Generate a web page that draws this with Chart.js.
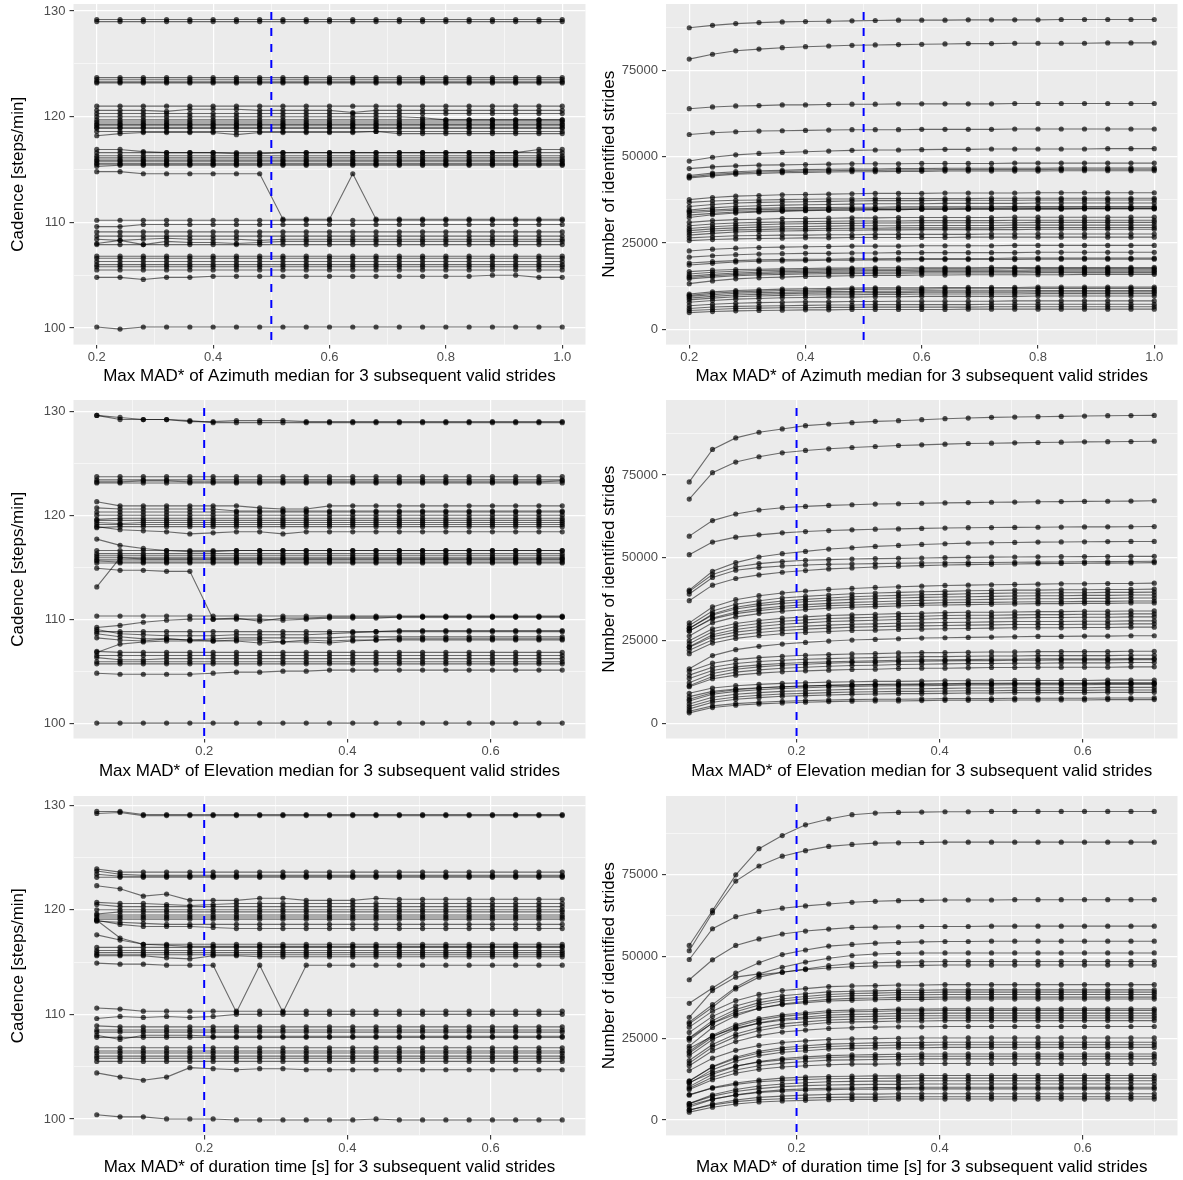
<!DOCTYPE html>
<html><head><meta charset="utf-8">
<script src="https://cdn.jsdelivr.net/npm/chart.js@4.4.1/dist/chart.umd.min.js"></script>
<style>
html,body{margin:0;padding:0;background:#fff;}
#wrap{position:relative;width:1183px;height:1180px;overflow:hidden;}
.pc{position:absolute;}
</style></head><body><div id="wrap">
<div class="pc" id="w1" style="left:0;top:0;width:590px;height:390px"><canvas id="c1"></canvas></div>
<div class="pc" id="w2" style="left:590px;top:0;width:593px;height:390px"><canvas id="c2"></canvas></div>
<div class="pc" id="w3" style="left:0;top:390px;width:590px;height:395px"><canvas id="c3"></canvas></div>
<div class="pc" id="w4" style="left:590px;top:390px;width:593px;height:395px"><canvas id="c4"></canvas></div>
<div class="pc" id="w5" style="left:0;top:785px;width:590px;height:395px"><canvas id="c5"></canvas></div>
<div class="pc" id="w6" style="left:590px;top:785px;width:593px;height:395px"><canvas id="c6"></canvas></div>
</div>
<script>
// ---------------- DATA ----------------
const madAzX = [0.2,0.24,0.28,0.32,0.36,0.4,0.44,0.48,0.52,0.56,0.6,0.64,0.68,0.72,0.76,0.8,0.84,0.88,0.92,0.96,1.0];
const madElX = [0.05,0.0825,0.115,0.1475,0.18,0.2125,0.245,0.2775,0.31,0.3425,0.375,0.4075,0.44,0.4725,0.505,0.5375,0.57,0.6025,0.635,0.6675,0.7];
const madDurX = [0.05,0.0825,0.115,0.1475,0.18,0.2125,0.245,0.2775,0.31,0.3425,0.375,0.4075,0.44,0.4725,0.505,0.5375,0.57,0.6025,0.635,0.6675,0.7];

const azXTicks = [0.2,0.4,0.6,0.8,1.0];
const azXTickLabels = ['0.2','0.4','0.6','0.8','1.0'];
const azXMinor = [0.3,0.5,0.7,0.9];
const madXTicks = [0.2,0.4,0.6];
const madXTickLabels = ['0.2','0.4','0.6'];
const madXMinor = [0.1,0.3,0.5,0.7];
const cadTicks = [100,110,120,130];
const cadTickLabels = ['100','110','120','130'];
const cadMinor = [105,115,125];
const strideTicks = [0,25000,50000,75000];
const strideTickLabels = ['0','25000','50000','75000'];
const strideMinor = [12500,37500,62500,87500];

const azThreshold = 0.5;
const elThreshold = 0.2;
const durThreshold = 0.2;

const cadenceAzimuth = [
[129.2,129.2,129.2,129.2,129.2,129.2,129.2,129.2,129.2,129.2,129.2,129.2,129.2,129.2,129.2,129.2,129.2,129.2,129.2,129.2,129.2],
[129.0,129.0,129.0,129.0,129.0,129.0,129.0,129.0,129.0,129.0,129.0,129.0,129.0,129.0,129.0,129.0,129.0,129.0,129.0,129.0,129.0],
[123.7,123.7,123.7,123.7,123.7,123.7,123.7,123.7,123.7,123.7,123.7,123.7,123.7,123.7,123.7,123.7,123.7,123.7,123.7,123.7,123.7],
[123.5,123.5,123.5,123.5,123.5,123.5,123.5,123.5,123.5,123.5,123.5,123.5,123.5,123.5,123.5,123.5,123.5,123.5,123.5,123.5,123.5],
[123.3,123.3,123.3,123.3,123.3,123.3,123.3,123.3,123.3,123.3,123.3,123.3,123.3,123.3,123.3,123.3,123.3,123.3,123.3,123.3,123.3],
[123.2,123.2,123.2,123.2,123.2,123.2,123.2,123.2,123.2,123.2,123.2,123.2,123.2,123.2,123.2,123.2,123.2,123.2,123.2,123.2,123.2],
[121.0,121.0,121.0,121.0,121.0,121.0,121.0,121.0,121.0,121.0,121.0,121.0,121.0,121.0,121.0,121.0,121.0,121.0,121.0,121.0,121.0],
[120.6,120.6,120.6,120.5,120.7,120.7,120.7,120.6,120.6,120.6,120.6,120.4,120.6,120.6,120.6,120.6,120.6,120.6,120.6,120.6,120.6],
[120.3,120.3,120.3,120.3,120.3,120.3,120.3,120.3,120.3,120.3,120.3,120.3,120.3,120.3,120.3,120.3,120.3,120.3,120.3,120.3,120.3],
[120.0,120.0,120.0,120.0,120.0,120.0,120.0,120.0,120.0,120.0,120.0,120.0,120.0,120.0,119.9,119.7,119.7,119.7,119.7,119.7,119.7],
[119.7,119.7,119.7,119.7,119.7,119.7,119.7,119.7,119.7,119.7,119.7,119.7,119.7,119.7,119.7,119.7,119.7,119.7,119.7,119.7,119.7],
[119.5,119.5,119.5,119.5,119.5,119.5,119.5,119.5,119.5,119.5,119.5,119.5,119.5,119.5,119.5,119.5,119.5,119.5,119.5,119.5,119.5],
[119.3,119.3,119.3,119.3,119.3,119.3,119.3,119.3,119.3,119.3,119.3,119.3,119.3,119.3,119.3,119.3,119.3,119.3,119.3,119.3,119.3],
[119.2,119.2,119.2,119.2,119.2,119.2,119.2,119.2,119.2,119.2,119.2,119.2,119.2,119.2,119.2,119.2,119.2,119.2,119.2,119.2,119.2],
[119.0,119.0,119.0,119.0,119.0,119.0,119.0,119.0,119.0,119.0,119.0,119.0,119.0,119.0,119.0,119.0,119.0,119.0,119.0,119.0,119.0],
[118.9,118.9,118.9,118.9,118.9,118.9,118.9,118.9,118.9,118.9,118.9,118.9,118.9,118.9,118.9,118.9,118.9,118.9,118.9,118.9,118.9],
[118.6,118.6,118.6,118.6,118.6,118.6,118.6,118.6,118.6,118.6,118.6,118.6,118.6,118.6,118.6,118.6,118.6,118.6,118.6,118.6,118.6],
[118.2,118.4,118.5,118.5,118.5,118.5,118.3,118.5,118.5,118.5,118.5,118.5,118.6,118.4,118.4,118.4,118.4,118.4,118.4,118.4,118.4],
[116.9,116.9,116.7,116.6,116.6,116.6,116.5,116.5,116.6,116.6,116.6,116.6,116.6,116.6,116.6,116.6,116.6,116.6,116.6,116.9,116.9],
[116.6,116.6,116.6,116.6,116.6,116.6,116.6,116.6,116.6,116.6,116.6,116.6,116.6,116.6,116.6,116.6,116.6,116.6,116.6,116.6,116.6],
[116.3,116.3,116.3,116.3,116.3,116.3,116.3,116.3,116.3,116.3,116.3,116.3,116.3,116.3,116.3,116.3,116.3,116.3,116.3,116.3,116.3],
[116.1,116.1,116.1,116.1,116.1,116.1,116.1,116.1,116.1,116.1,116.1,116.1,116.1,116.1,116.1,116.1,116.1,116.1,116.1,116.1,116.1],
[115.9,115.9,115.9,115.9,115.9,115.9,115.9,115.9,115.9,115.9,115.9,115.9,115.9,115.9,115.9,115.9,115.9,115.9,115.9,115.9,115.9],
[115.8,115.8,115.8,115.8,115.8,115.8,115.8,115.8,115.8,115.8,115.8,115.8,115.8,115.8,115.8,115.8,115.8,115.8,115.8,115.8,115.8],
[115.6,115.6,115.6,115.6,115.6,115.6,115.6,115.6,115.6,115.6,115.6,115.6,115.6,115.6,115.6,115.6,115.6,115.6,115.6,115.6,115.6],
[115.5,115.5,115.5,115.5,115.5,115.5,115.5,115.5,115.5,115.5,115.5,115.5,115.5,115.5,115.5,115.5,115.5,115.5,115.5,115.5,115.5],
[115.3,115.4,115.4,115.4,115.4,115.4,115.4,115.4,115.4,115.4,115.4,115.4,115.4,115.4,115.4,115.4,115.4,115.4,115.4,115.4,115.4],
[114.8,114.8,114.6,114.6,114.6,114.6,114.6,114.6,110.3,110.3,110.3,114.6,110.3,110.3,110.3,110.3,110.3,110.3,110.3,110.3,110.3],
[110.2,110.2,110.2,110.2,110.2,110.2,110.2,110.2,110.2,110.2,110.2,110.2,110.2,110.2,110.2,110.2,110.2,110.2,110.2,110.2,110.2],
[109.6,109.6,109.8,109.8,109.8,109.8,109.8,109.8,109.8,109.8,109.8,109.8,109.8,109.8,109.8,109.8,109.8,109.8,109.8,109.8,109.8],
[109.1,109.1,109.1,109.1,109.1,109.1,109.1,109.1,109.1,109.1,109.1,109.1,109.1,109.1,109.1,109.1,109.1,109.1,109.1,109.1,109.1],
[108.7,108.7,108.7,108.7,108.7,108.7,108.7,108.7,108.7,108.7,108.7,108.7,108.7,108.7,108.7,108.7,108.7,108.7,108.7,108.7,108.7],
[108.4,108.3,108.4,108.5,108.4,108.4,108.4,108.3,108.4,108.4,108.4,108.4,108.4,108.4,108.4,108.4,108.4,108.4,108.4,108.4,108.4],
[108.0,108.3,107.9,108.2,108.1,108.1,108.0,108.1,108.2,108.2,108.2,108.2,108.2,108.2,108.2,108.2,108.2,108.2,108.2,108.2,108.2],
[107.9,107.9,107.9,107.9,107.9,107.9,107.9,107.9,107.9,107.9,107.9,107.9,107.9,107.9,107.9,107.9,107.9,107.9,107.9,107.9,107.9],
[106.8,106.8,106.8,106.8,106.8,106.8,106.8,106.8,106.8,106.8,106.8,106.8,106.8,106.8,106.8,106.8,106.8,106.8,106.8,106.8,106.8],
[106.6,106.6,106.6,106.6,106.6,106.6,106.6,106.6,106.6,106.6,106.6,106.6,106.6,106.6,106.6,106.6,106.6,106.6,106.6,106.6,106.6],
[106.3,106.3,106.3,106.3,106.3,106.3,106.3,106.3,106.3,106.3,106.3,106.3,106.3,106.3,106.3,106.3,106.3,106.3,106.3,106.3,106.3],
[106.0,106.0,106.0,106.0,106.0,106.0,106.0,106.0,106.0,106.0,106.0,106.0,106.0,106.0,106.0,106.0,106.0,106.0,106.0,106.0,106.0],
[105.8,105.8,105.8,105.8,105.8,105.8,105.8,105.8,105.8,105.8,105.8,105.8,105.8,105.8,105.8,105.8,105.8,105.8,105.8,105.8,105.8],
[105.5,105.5,105.5,105.5,105.5,105.5,105.5,105.5,105.5,105.5,105.5,105.5,105.5,105.5,105.5,105.5,105.5,105.5,105.5,105.5,105.5],
[104.8,104.8,104.6,104.8,104.8,104.9,104.9,104.9,104.9,104.9,104.9,104.9,104.9,104.9,104.9,104.9,104.9,105.0,105.0,104.8,104.8],
[100.1,99.9,100.1,100.1,100.1,100.1,100.1,100.1,100.1,100.1,100.1,100.1,100.1,100.1,100.1,100.1,100.1,100.1,100.1,100.1,100.1]
];

const stridesAzimuth = [
[87500,88200,88700,89000,89200,89300,89400,89500,89600,89700,89700,89700,89800,89800,89800,89800,89900,89900,89900,89900,89900],
[78400,79800,80800,81300,81700,82000,82200,82400,82500,82600,82700,82800,82900,82900,83000,83000,83000,83000,83100,83100,83100],
[64000,64500,64800,64900,65100,65100,65200,65300,65300,65400,65400,65400,65400,65400,65500,65500,65500,65500,65500,65500,65500],
[56500,57000,57300,57500,57600,57700,57800,57900,57900,57900,58000,58000,58000,58000,58100,58100,58100,58100,58100,58100,58100],
[48800,49900,50600,51000,51300,51500,51700,51900,52000,52000,52100,52200,52200,52300,52300,52300,52300,52300,52400,52400,52400],
[46600,47100,47400,47600,47700,47800,47900,48000,48000,48000,48100,48100,48100,48100,48200,48200,48200,48200,48200,48200,48200],
[44600,45300,45700,46000,46100,46300,46400,46500,46500,46600,46600,46700,46700,46700,46700,46700,46800,46800,46800,46800,46800],
[44200,44900,45300,45600,45700,45900,46000,46100,46100,46200,46200,46300,46300,46300,46300,46300,46400,46400,46400,46400,46400],
[43900,44500,45000,45200,45400,45500,45600,45700,45700,45800,45800,45900,45900,45900,45900,45900,46000,46000,46000,46000,46000],
[37600,38200,38600,38800,39000,39100,39200,39300,39400,39400,39400,39500,39500,39500,39500,39600,39600,39600,39600,39600,39600],
[36800,37200,37400,37500,37600,37700,37800,37800,37900,37900,37900,37900,37900,38000,38000,38000,38000,38000,38000,38000,38000],
[35600,36200,36600,36800,36900,37000,37100,37200,37300,37300,37300,37400,37400,37400,37400,37500,37500,37500,37500,37500,37500],
[34600,35200,35600,35800,36000,36100,36200,36300,36400,36400,36400,36500,36500,36500,36500,36600,36600,36600,36600,36600,36600],
[34200,34600,34900,35100,35200,35300,35300,35400,35400,35500,35500,35500,35500,35500,35600,35600,35600,35600,35600,35600,35600],
[33800,34200,34500,34700,34800,34900,34900,35000,35000,35100,35100,35100,35100,35100,35200,35200,35200,35200,35200,35200,35200],
[33100,33600,34000,34200,34400,34500,34600,34600,34700,34700,34800,34800,34800,34800,34800,34900,34900,34900,34900,34900,34900],
[32400,33200,33700,34000,34200,34400,34500,34600,34700,34700,34800,34800,34900,34900,34900,34900,34900,35000,35000,35000,35000],
[31000,31500,31800,31900,32100,32100,32200,32300,32300,32400,32400,32400,32400,32400,32500,32500,32500,32500,32500,32500,32500],
[30000,30500,30800,31000,31100,31200,31300,31400,31400,31400,31500,31500,31500,31500,31600,31600,31600,31600,31600,31600,31600],
[29200,29700,30100,30300,30500,30600,30700,30700,30800,30800,30900,30900,30900,30900,30900,31000,31000,31000,31000,31000,31000],
[28600,29100,29400,29600,29700,29800,29900,30000,30000,30000,30100,30100,30100,30100,30200,30200,30200,30200,30200,30200,30200],
[28000,28500,28800,28900,29100,29100,29200,29300,29300,29400,29400,29400,29400,29400,29500,29500,29500,29500,29500,29500,29500],
[27300,27800,28200,28400,28500,28600,28700,28700,28800,28800,28900,28900,28900,28900,28900,29000,29000,29000,29000,29000,29000],
[26500,26800,27100,27200,27300,27300,27400,27400,27500,27500,27500,27500,27500,27600,27600,27600,27600,27600,27600,27600,27600],
[25700,26000,26200,26300,26400,26500,26500,26600,26600,26600,26600,26600,26700,26700,26700,26700,26700,26700,26700,26700,26700],
[22700,23200,23500,23700,23800,23900,24000,24100,24100,24100,24200,24200,24200,24200,24300,24300,24300,24300,24300,24300,24300],
[20900,21300,21600,21800,21900,22000,22000,22100,22100,22200,22200,22200,22200,22200,22200,22300,22300,22300,22300,22300,22300],
[19200,19600,19900,20100,20200,20300,20300,20400,20400,20500,20500,20500,20500,20500,20600,20600,20600,20600,20600,20600,20600],
[18600,19100,19500,19700,19800,19900,20000,20000,20100,20100,20200,20200,20200,20200,20200,20300,20300,20300,20300,20300,20300],
[16700,17100,17300,17400,17500,17600,17700,17700,17800,17800,17800,17800,17800,17900,17900,17900,17900,17900,17900,17900,17900],
[16000,16500,16800,17000,17100,17200,17300,17400,17400,17400,17500,17500,17500,17500,17600,17600,17600,17600,17600,17600,17600],
[15400,15900,16300,16500,16700,16800,16900,16900,17000,17000,17100,17100,17100,17100,17100,17200,17200,17200,17200,17200,17200],
[15000,15500,15900,16100,16300,16400,16500,16500,16600,16600,16700,16700,16700,16700,16700,16800,16800,16800,16800,16800,16800],
[14600,15100,15500,15700,15900,16000,16100,16100,16200,16200,16300,16300,16300,16300,16300,16400,16400,16400,16400,16400,16400],
[13200,14000,14600,14900,15100,15300,15400,15500,15600,15600,15700,15700,15800,15800,15800,15800,15800,15900,15900,15900,15900],
[10200,10800,11200,11400,11600,11700,11800,11900,12000,12000,12000,12100,12100,12100,12100,12200,12200,12200,12200,12200,12200],
[9800,10400,10800,11000,11200,11300,11400,11500,11600,11600,11600,11700,11700,11700,11700,11800,11800,11800,11800,11800,11800],
[9500,10000,10400,10600,10700,10800,10900,10900,11000,11000,11100,11100,11100,11100,11100,11200,11200,11200,11200,11200,11200],
[9000,9500,9900,10100,10300,10400,10500,10500,10600,10600,10700,10700,10700,10700,10700,10800,10800,10800,10800,10800,10800],
[8500,9000,9400,9600,9800,9900,10000,10000,10100,10100,10200,10200,10200,10200,10200,10300,10300,10300,10300,10300,10300],
[7800,8300,8700,8900,9100,9200,9300,9300,9400,9400,9500,9500,9500,9500,9500,9600,9600,9600,9600,9600,9600],
[6800,7200,7500,7700,7800,7900,7900,8000,8000,8100,8100,8100,8100,8100,8200,8200,8200,8200,8200,8200,8200],
[6000,6400,6600,6700,6800,6900,7000,7000,7100,7100,7100,7100,7100,7200,7200,7200,7200,7200,7200,7200,7200],
[5400,5700,6000,6100,6200,6200,6300,6300,6400,6400,6400,6400,6400,6500,6500,6500,6500,6500,6500,6500,6500],
[4800,5100,5300,5400,5500,5600,5600,5700,5700,5700,5700,5700,5800,5800,5800,5800,5800,5800,5800,5800,5800]
];

const cadenceElevation = [
[129.6,129.4,129.2,129.2,129.0,129.0,129.1,129.1,129.1,129.0,129.0,129.0,129.0,129.0,129.0,129.0,129.0,129.0,129.0,129.0,129.0],
[129.6,129.2,129.2,129.2,129.1,128.9,128.9,128.9,128.9,128.9,128.9,128.9,128.9,128.9,128.9,128.9,128.9,128.9,128.9,128.9,128.9],
[123.7,123.7,123.7,123.7,123.7,123.7,123.7,123.7,123.7,123.7,123.7,123.7,123.7,123.7,123.7,123.7,123.7,123.7,123.7,123.7,123.7],
[123.4,123.4,123.4,123.4,123.4,123.4,123.4,123.4,123.4,123.4,123.4,123.4,123.4,123.4,123.4,123.4,123.4,123.4,123.4,123.4,123.4],
[123.2,123.2,123.3,123.3,123.2,123.2,123.2,123.2,123.2,123.2,123.2,123.2,123.2,123.2,123.2,123.2,123.2,123.2,123.2,123.2,123.3],
[123.1,123.1,123.1,123.1,123.1,123.1,123.1,123.1,123.1,123.1,123.1,123.1,123.1,123.1,123.1,123.1,123.1,123.1,123.1,123.1,123.1],
[121.3,120.9,120.9,120.9,120.9,120.9,120.9,120.7,120.6,120.6,120.9,120.9,120.9,120.9,120.9,120.9,120.9,120.9,120.9,120.9,120.9],
[120.7,120.6,120.6,120.6,120.6,120.6,120.4,120.4,120.4,120.4,120.4,120.4,120.4,120.4,120.4,120.4,120.4,120.4,120.4,120.4,120.4],
[120.3,120.3,120.3,120.3,120.3,120.3,120.3,120.3,120.3,120.3,120.3,120.3,120.3,120.3,120.3,120.3,120.3,120.3,120.3,120.3,120.3],
[120.0,120.0,120.0,120.0,120.0,120.0,120.0,120.0,120.0,120.0,120.0,120.0,120.0,120.0,120.0,120.0,120.0,120.0,120.0,120.0,120.0],
[119.6,119.7,119.7,119.7,119.7,119.7,119.7,119.7,119.7,119.7,119.7,119.7,119.7,119.7,119.7,119.7,119.7,119.7,119.7,119.7,119.7],
[119.5,119.5,119.5,119.5,119.5,119.5,119.5,119.5,119.5,119.5,119.5,119.5,119.5,119.5,119.5,119.5,119.5,119.5,119.5,119.5,119.5],
[119.3,119.2,119.3,119.3,119.3,119.3,119.3,119.3,119.3,119.3,119.3,119.3,119.3,119.3,119.3,119.3,119.3,119.3,119.3,119.3,119.3],
[119.1,119.1,119.1,119.1,119.1,119.1,119.1,119.1,119.1,119.1,119.1,119.1,119.1,119.1,119.1,119.1,119.1,119.1,119.1,119.1,119.1],
[118.8,118.9,118.9,118.9,118.9,118.9,118.9,118.9,118.9,118.9,118.9,118.9,118.9,118.9,118.9,118.9,118.9,118.9,118.9,118.9,118.9],
[118.9,118.6,118.5,118.4,118.2,118.3,118.4,118.4,118.2,118.4,118.4,118.4,118.4,118.4,118.4,118.4,118.4,118.4,118.4,118.4,118.4],
[117.7,117.1,116.8,116.6,116.5,116.5,116.6,116.6,116.6,116.6,116.6,116.6,116.6,116.6,116.6,116.6,116.6,116.6,116.6,116.6,116.6],
[116.6,116.6,116.6,116.6,116.6,116.6,116.6,116.6,116.6,116.6,116.6,116.6,116.6,116.6,116.6,116.6,116.6,116.6,116.6,116.6,116.6],
[116.3,116.3,116.3,116.3,116.3,116.3,116.3,116.3,116.3,116.3,116.3,116.3,116.3,116.3,116.3,116.3,116.3,116.3,116.3,116.3,116.3],
[116.1,116.1,116.1,116.1,116.1,116.1,116.1,116.1,116.1,116.1,116.1,116.1,116.1,116.1,116.1,116.1,116.1,116.1,116.1,116.1,116.1],
[115.9,115.9,115.9,115.9,115.9,115.9,115.9,115.9,115.9,115.9,115.9,115.9,115.9,115.9,115.9,115.9,115.9,115.9,115.9,115.9,115.9],
[115.7,115.7,115.7,115.7,115.7,115.7,115.7,115.7,115.7,115.7,115.7,115.7,115.7,115.7,115.7,115.7,115.7,115.7,115.7,115.7,115.7],
[115.6,115.5,115.5,115.5,115.5,115.5,115.5,115.5,115.5,115.5,115.5,115.5,115.5,115.5,115.5,115.5,115.5,115.5,115.5,115.5,115.5],
[115.4,115.4,115.4,115.4,115.4,115.4,115.4,115.4,115.4,115.4,115.4,115.4,115.4,115.4,115.4,115.4,115.4,115.4,115.4,115.4,115.4],
[113.1,115.9,115.8,115.8,115.8,115.8,115.8,115.8,115.8,115.8,115.8,115.8,115.8,115.8,115.8,115.8,115.8,115.8,115.8,115.8,115.8],
[114.9,114.7,114.7,114.6,114.6,110.0,110.1,109.8,110.1,110.1,110.2,110.2,110.2,110.2,110.2,110.2,110.2,110.2,110.2,110.2,110.2],
[110.3,110.3,110.3,110.3,110.3,110.3,110.3,110.3,110.3,110.3,110.3,110.3,110.3,110.3,110.3,110.3,110.3,110.3,110.3,110.3,110.3],
[109.2,109.4,109.7,109.9,110.0,110.0,110.0,110.0,109.9,110.0,110.1,110.1,110.1,110.2,110.2,110.2,110.2,110.2,110.2,110.2,110.2],
[109.0,108.6,108.5,108.4,108.4,108.4,108.5,108.5,108.5,108.5,108.6,108.7,108.8,108.9,108.9,108.9,108.9,108.9,108.9,108.9,108.9],
[108.8,108.8,108.8,108.8,108.8,108.8,108.8,108.8,108.8,108.8,108.8,108.8,108.8,108.8,108.8,108.8,108.8,108.8,108.8,108.8,108.8],
[108.6,108.3,108.1,108.1,108.0,108.1,108.2,108.2,108.2,108.2,108.2,108.3,108.3,108.3,108.3,108.3,108.3,108.3,108.3,108.3,108.3],
[108.2,108.0,107.9,108.1,108.0,107.9,108.0,108.0,107.8,108.0,107.9,108.0,108.0,108.0,108.0,108.0,108.0,108.0,108.0,108.0,108.0],
[106.8,107.6,107.8,107.9,107.9,107.9,107.9,107.7,107.8,107.8,107.7,107.9,108.0,108.1,108.1,108.1,108.1,108.1,108.1,108.1,108.1],
[106.9,106.8,106.8,106.8,106.8,106.8,106.8,106.8,106.8,106.8,106.8,106.8,106.8,106.8,106.8,106.8,106.8,106.8,106.8,106.8,106.8],
[106.5,106.5,106.5,106.5,106.5,106.5,106.5,106.5,106.5,106.5,106.5,106.5,106.5,106.5,106.5,106.5,106.5,106.5,106.5,106.5,106.5],
[106.3,106.1,106.1,106.2,106.2,106.2,106.2,106.2,106.2,106.2,106.2,106.2,106.2,106.2,106.2,106.2,106.2,106.2,106.2,106.2,106.2],
[105.9,105.9,105.9,105.9,105.9,105.9,105.9,105.9,105.9,105.9,105.9,105.9,105.9,105.9,105.9,105.9,105.9,105.9,105.9,105.9,105.9],
[105.7,105.7,105.7,105.7,105.7,105.7,105.7,105.7,105.7,105.7,105.7,105.7,105.7,105.7,105.7,105.7,105.7,105.7,105.7,105.7,105.7],
[104.8,104.7,104.7,104.7,104.7,104.8,104.9,104.9,105.0,105.0,105.1,105.1,105.1,105.1,105.1,105.1,105.1,105.1,105.1,105.1,105.1],
[100.0,100.0,100.0,100.0,100.0,100.0,100.0,100.0,100.0,100.0,100.0,100.0,100.0,100.0,100.0,100.0,100.0,100.0,100.0,100.0,100.0]
];

const stridesElevation = [
[72900,82700,86200,87900,88900,89900,90400,90800,91200,91400,91700,92000,92200,92400,92500,92600,92700,92800,92900,92950,93000],
[67700,75700,78900,80500,81700,82400,82900,83300,83600,83900,84100,84300,84500,84600,84700,84800,84900,85000,85050,85100,85200],
[56500,61200,63200,64400,65100,65500,65800,66000,66200,66300,66450,66550,66650,66750,66800,66900,66950,67000,67050,67100,67200],
[50900,54700,56200,56900,57500,57900,58200,58400,58600,58700,58850,58950,59050,59100,59150,59200,59250,59300,59320,59350,59400],
[40200,45900,48500,50200,51200,51900,52600,53000,53400,53700,54000,54200,54400,54500,54600,54700,54750,54800,54850,54900,54900],
[39800,44900,47200,48200,48800,49200,49400,49600,49700,49800,49900,50000,50100,50150,50200,50250,50300,50320,50350,50380,50400],
[39000,44000,46200,47000,47500,47800,48000,48100,48200,48300,48400,48450,48500,48550,48600,48650,48700,48750,48800,48850,48900],
[37000,41700,43700,44800,45600,46100,46600,46900,47200,47400,47600,47800,47900,48000,48100,48200,48250,48300,48350,48400,48500],
[30300,35100,37300,38500,39300,39900,40400,40700,41000,41200,41400,41600,41700,41800,41900,42000,42100,42100,42200,42200,42300],
[29500,33900,35900,37000,37800,38300,38700,39100,39300,39500,39700,39800,40000,40100,40200,40200,40300,40300,40400,40400,40500],
[28600,33000,35000,36100,36900,37400,37800,38200,38400,38600,38800,38900,39100,39200,39300,39300,39400,39400,39500,39500,39600],
[28700,32700,34500,35500,36200,36700,37100,37400,37600,37800,38000,38100,38200,38300,38400,38500,38500,38600,38600,38700,38700],
[27800,31800,33600,34600,35300,35800,36200,36500,36700,36900,37100,37200,37300,37400,37500,37600,37600,37700,37700,37800,37800],
[27900,31500,33100,34000,34700,35100,35500,35700,35900,36100,36200,36400,36500,36500,36600,36700,36700,36800,36800,36900,36900],
[26300,30300,32100,33100,33800,34300,34700,35000,35200,35400,35600,35700,35800,35900,36000,36100,36100,36200,36200,36300,36300],
[24900,28500,30100,31000,31700,32100,32500,32700,32900,33100,33200,33400,33500,33500,33600,33700,33700,33800,33800,33900,33900],
[24000,27600,29200,30100,30800,31200,31600,31800,32000,32200,32300,32500,32600,32600,32700,32800,32800,32900,32900,33000,33000],
[23100,26700,28300,29200,29900,30300,30700,30900,31100,31300,31400,31600,31700,31700,31800,31900,31900,32000,32000,32100,32100],
[22900,26100,27500,28300,28900,29300,29600,29900,30000,30200,30300,30400,30500,30600,30700,30700,30700,30800,30800,30900,30900],
[22000,25200,26600,27400,28000,28400,28700,29000,29100,29300,29400,29500,29600,29700,29800,29800,29800,29900,29900,30000,30000],
[21000,24200,25600,26400,27000,27400,27700,28000,28100,28300,28400,28500,28600,28700,28800,28800,28800,28900,28900,29000,29000],
[16400,20400,22200,23200,23900,24400,24800,25100,25300,25500,25700,25800,25900,26000,26100,26200,26200,26300,26300,26400,26400],
[15700,18100,19200,19800,20200,20500,20700,20900,21000,21200,21300,21300,21400,21500,21500,21600,21600,21600,21600,21700,21700],
[14500,16900,18000,18600,19000,19300,19500,19700,19800,20000,20100,20100,20200,20300,20300,20400,20400,20400,20400,20500,20500],
[13500,15900,17000,17600,18000,18300,18500,18700,18800,19000,19100,19100,19200,19300,19300,19400,19400,19400,19400,19500,19500],
[11300,14100,15400,16100,16600,16900,17200,17400,17500,17700,17800,17900,18000,18000,18100,18100,18200,18200,18200,18300,18300],
[11000,13400,14500,15100,15500,15800,16000,16200,16300,16500,16600,16600,16700,16800,16800,16900,16900,16900,16900,17000,17000],
[12200,15000,16300,17000,17500,17800,18100,18300,18400,18600,18700,18800,18900,18900,19000,19000,19100,19100,19100,19200,19200],
[9000,10600,11300,11700,12000,12200,12400,12500,12600,12600,12700,12800,12800,12800,12900,12900,12900,12900,13000,13000,13000],
[8000,9600,10300,10700,11000,11200,11400,11500,11600,11600,11700,11800,11800,11800,11900,11900,11900,11900,12000,12000,12000],
[6700,8700,9600,10100,10500,10700,10900,11100,11200,11300,11300,11400,11500,11500,11600,11600,11600,11600,11700,11700,11700],
[5800,7800,8700,9200,9600,9800,10000,10200,10300,10400,10400,10500,10600,10600,10700,10700,10700,10700,10800,10800,10800],
[5000,7000,7900,8400,8800,9000,9200,9400,9500,9600,9600,9700,9800,9800,9900,9900,9900,9900,10000,10000,10000],
[4300,6300,7200,7700,8100,8300,8500,8700,8800,8900,8900,9000,9100,9100,9200,9200,9200,9200,9300,9300,9300],
[3600,5200,5900,6300,6600,6800,7000,7100,7200,7200,7300,7400,7400,7400,7500,7500,7500,7500,7600,7600,7600],
[3100,4700,5400,5800,6100,6300,6500,6600,6700,6700,6800,6900,6900,6900,7000,7000,7000,7000,7100,7100,7100],
[7200,9200,10100,10600,11000,11200,11400,11600,11700,11800,11800,11900,12000,12000,12100,12100,12100,12100,12200,12200,12200]
];

const cadenceDuration = [
[129.4,129.4,129.1,129.1,129.1,129.1,129.1,129.1,129.1,129.1,129.1,129.1,129.1,129.1,129.1,129.1,129.1,129.1,129.1,129.1,129.1],
[129.2,129.3,129.0,129.0,129.0,129.0,129.0,129.0,129.0,129.0,129.0,129.0,129.0,129.0,129.0,129.0,129.0,129.0,129.0,129.0,129.0],
[123.9,123.6,123.6,123.6,123.6,123.6,123.6,123.6,123.6,123.6,123.6,123.6,123.6,123.6,123.6,123.6,123.6,123.6,123.6,123.6,123.6],
[123.7,123.4,123.3,123.3,123.3,123.3,123.3,123.3,123.3,123.3,123.3,123.3,123.3,123.3,123.3,123.3,123.3,123.3,123.3,123.3,123.3],
[123.4,123.2,123.2,123.2,123.2,123.2,123.2,123.2,123.2,123.2,123.2,123.2,123.2,123.2,123.2,123.2,123.2,123.2,123.2,123.2,123.2],
[123.1,123.1,123.1,123.1,123.1,123.1,123.1,123.1,123.1,123.1,123.1,123.1,123.1,123.1,123.1,123.1,123.1,123.1,123.1,123.1,123.1],
[122.3,122.0,121.3,121.5,120.9,120.9,120.9,121.1,121.1,120.9,120.9,120.9,121.1,121.0,121.0,121.0,121.0,121.0,121.0,121.0,121.0],
[120.7,120.6,120.6,120.5,120.4,120.5,120.6,120.6,120.6,120.6,120.6,120.6,120.6,120.6,120.6,120.6,120.6,120.6,120.6,120.6,120.6],
[120.5,120.3,120.3,120.3,120.3,120.3,120.3,120.3,120.3,120.3,120.3,120.3,120.3,120.3,120.3,120.3,120.3,120.3,120.3,120.3,120.3],
[120.0,120.0,120.0,120.0,120.0,120.0,120.0,120.0,120.0,120.0,120.0,120.0,120.0,120.0,120.0,120.0,120.0,120.0,120.0,120.0,120.0],
[119.6,119.8,119.8,119.8,119.8,119.8,119.8,119.8,119.8,119.8,119.8,119.8,119.8,119.8,119.8,119.8,119.8,119.8,119.8,119.8,119.8],
[119.5,119.5,119.5,119.5,119.5,119.5,119.5,119.5,119.5,119.5,119.5,119.5,119.5,119.5,119.5,119.5,119.5,119.5,119.5,119.5,119.5],
[119.3,119.3,119.3,119.3,119.3,119.3,119.3,119.3,119.3,119.3,119.3,119.3,119.3,119.3,119.3,119.3,119.3,119.3,119.3,119.3,119.3],
[119.1,119.1,119.1,119.1,119.1,119.1,119.1,119.1,119.1,119.1,119.1,119.1,119.1,119.1,119.1,119.1,119.1,119.1,119.1,119.1,119.1],
[119.0,118.6,118.4,118.4,118.4,118.3,118.2,118.2,118.2,118.2,118.2,118.2,118.2,118.2,118.2,118.2,118.2,118.2,118.2,118.2,118.2],
[118.9,118.8,118.7,118.6,118.6,118.6,118.6,118.6,118.6,118.6,118.6,118.6,118.6,118.6,118.6,118.6,118.6,118.6,118.6,118.6,118.6],
[119.0,117.3,116.7,116.7,116.7,116.7,116.7,116.7,116.7,116.7,116.7,116.7,116.7,116.7,116.7,116.7,116.7,116.7,116.7,116.7,116.7],
[117.6,117.1,116.7,116.6,116.5,116.5,116.5,116.5,116.5,116.5,116.5,116.5,116.5,116.5,116.5,116.5,116.5,116.5,116.5,116.5,116.5],
[116.4,116.4,116.4,116.4,116.4,116.4,116.4,116.4,116.4,116.4,116.4,116.4,116.4,116.4,116.4,116.4,116.4,116.4,116.4,116.4,116.4],
[116.1,116.1,116.1,116.1,116.1,116.1,116.1,116.1,116.1,116.1,116.1,116.1,116.1,116.1,116.1,116.1,116.1,116.1,116.1,116.1,116.1],
[115.9,115.9,115.9,115.9,115.9,115.9,115.9,115.9,115.9,115.9,115.9,115.9,115.9,115.9,115.9,115.9,115.9,115.9,115.9,115.9,115.9],
[115.7,115.7,115.7,115.7,115.7,115.7,115.7,115.7,115.7,115.7,115.7,115.7,115.7,115.7,115.7,115.7,115.7,115.7,115.7,115.7,115.7],
[115.6,115.6,115.6,115.4,115.3,115.6,115.6,115.5,115.5,115.5,115.5,115.5,115.5,115.5,115.5,115.5,115.5,115.5,115.5,115.5,115.5],
[114.9,114.8,114.8,114.7,114.7,114.7,110.2,114.7,110.2,114.7,114.7,114.7,114.7,114.7,114.7,114.7,114.7,114.7,114.7,114.7,114.7],
[110.6,110.5,110.3,110.3,110.3,110.3,110.3,110.3,110.3,110.3,110.3,110.3,110.3,110.3,110.3,110.3,110.3,110.3,110.3,110.3,110.3],
[109.6,109.8,109.7,109.8,109.7,109.8,110.0,110.0,110.0,110.0,110.0,110.0,110.0,110.0,110.0,110.0,110.0,110.0,110.0,110.0,110.0],
[108.9,108.8,108.8,108.8,108.8,108.8,108.8,108.8,108.8,108.8,108.8,108.8,108.8,108.8,108.8,108.8,108.8,108.8,108.8,108.8,108.8],
[108.5,108.5,108.5,108.5,108.5,108.5,108.5,108.5,108.5,108.5,108.5,108.5,108.5,108.5,108.5,108.5,108.5,108.5,108.5,108.5,108.5],
[108.3,108.3,108.3,108.3,108.3,108.3,108.3,108.3,108.3,108.3,108.3,108.3,108.3,108.3,108.3,108.3,108.3,108.3,108.3,108.3,108.3],
[108.0,107.6,108.0,108.0,108.0,107.9,107.9,107.9,107.9,107.9,107.9,107.9,107.9,107.9,107.9,107.9,107.9,107.9,107.9,107.9,107.9],
[107.8,107.8,107.8,107.8,107.8,107.8,107.8,107.8,107.8,107.8,107.8,107.8,107.8,107.8,107.8,107.8,107.8,107.8,107.8,107.8,107.8],
[106.8,106.8,106.8,106.8,106.8,106.8,106.8,106.8,106.8,106.8,106.8,106.8,106.8,106.8,106.8,106.8,106.8,106.8,106.8,106.8,106.8],
[106.5,106.5,106.5,106.5,106.5,106.5,106.5,106.5,106.5,106.5,106.5,106.5,106.5,106.5,106.5,106.5,106.5,106.5,106.5,106.5,106.5],
[106.3,106.3,106.3,106.3,106.3,106.3,106.3,106.3,106.3,106.3,106.3,106.3,106.3,106.3,106.3,106.3,106.3,106.3,106.3,106.3,106.3],
[106.0,106.0,106.0,106.0,106.0,106.0,106.0,106.0,106.0,106.0,106.0,106.0,106.0,106.0,106.0,106.0,106.0,106.0,106.0,106.0,106.0],
[105.8,105.8,105.8,105.8,105.8,105.8,105.8,105.8,105.8,105.8,105.8,105.8,105.8,105.8,105.8,105.8,105.8,105.8,105.8,105.8,105.8],
[105.5,105.5,105.5,105.5,105.5,105.5,105.5,105.5,105.5,105.5,105.5,105.5,105.5,105.5,105.5,105.5,105.5,105.5,105.5,105.5,105.5],
[104.4,104.0,103.7,104.0,104.9,104.8,104.7,104.8,104.8,104.7,104.7,104.7,104.7,104.7,104.7,104.7,104.7,104.7,104.7,104.7,104.7],
[100.4,100.2,100.2,100.0,100.0,100.0,99.9,99.9,99.9,99.9,99.9,99.9,100.0,99.9,99.9,99.9,99.9,99.9,99.9,99.9,99.9]
];

const stridesDuration = [
[53400,64100,75000,83000,87000,90300,92100,93400,93900,94100,94200,94300,94300,94400,94400,94400,94400,94400,94400,94400,94400],
[51800,63400,73100,77700,80700,82400,83700,84300,84700,84800,84900,85000,85000,85000,85000,85000,85000,85000,85000,85000,85000],
[49100,58500,62200,63800,64800,65500,66100,66600,66900,67100,67200,67300,67300,67300,67400,67400,67400,67400,67400,67400,67400],
[42900,49000,53400,55400,56900,57800,58400,58900,59000,59100,59200,59200,59200,59300,59300,59300,59300,59300,59300,59300,59300],
[35700,40400,44900,48100,50600,52000,53200,53700,54100,54300,54500,54600,54600,54700,54700,54700,54700,54700,54700,54700,54700],
[31400,39600,43700,44700,46700,48300,49500,50300,50800,51000,51100,51100,51100,51100,51100,51100,51100,51100,51100,51100,51100],
[29900,35300,40600,44400,45200,46200,47200,47800,48100,48300,48400,48500,48500,48500,48500,48500,48500,48500,48500,48500,48500],
[29400,34500,40100,43700,45200,46000,46500,46900,47100,47200,47300,47400,47400,47400,47400,47400,47400,47400,47400,47400,47400],
[28400,33300,36500,38400,39600,40200,40800,41000,41100,41300,41300,41400,41400,41400,41400,41400,41400,41400,41400,41400,41400],
[26800,31700,34900,36800,38000,38600,39200,39400,39500,39700,39700,39800,39800,39800,39800,39800,39800,39800,39800,39800,39800],
[25100,30400,33800,35900,37100,37800,38400,38700,38800,39000,39000,39100,39100,39100,39100,39100,39100,39100,39100,39100,39100],
[24400,29700,33100,35200,36400,37100,37700,38000,38100,38300,38300,38400,38400,38400,38400,38400,38400,38400,38400,38400,38400],
[22600,28300,31900,34200,35500,36300,36900,37200,37300,37500,37500,37600,37600,37600,37600,37600,37600,37600,37600,37600,37600],
[25000,29600,32400,34200,35300,35900,36400,36600,36800,36900,36900,37000,37000,37000,37000,37000,37000,37000,37000,37000,37000],
[21000,25900,29100,31000,32200,32800,33400,33600,33700,33900,33900,34000,34000,34000,34000,34000,34000,34000,34000,34000,34000],
[20500,25400,28600,30500,31700,32300,32900,33100,33200,33400,33400,33500,33500,33500,33500,33500,33500,33500,33500,33500,33500],
[19700,24600,27800,29700,30900,31500,32100,32300,32400,32600,32600,32700,32700,32700,32700,32700,32700,32700,32700,32700,32700],
[21900,25700,28100,29600,30500,31000,31400,31600,31700,31800,31900,31900,31900,31900,31900,31900,31900,31900,31900,31900,31900],
[18200,23100,26300,28200,29400,30000,30600,30800,30900,31100,31100,31200,31200,31200,31200,31200,31200,31200,31200,31200,31200],
[17400,22300,25500,27400,28600,29200,29800,30000,30100,30300,30300,30400,30400,30400,30400,30400,30400,30400,30400,30400,30400],
[16600,21200,24000,25800,26900,27500,28000,28200,28400,28500,28500,28600,28600,28600,28600,28600,28600,28600,28600,28600,28600],
[15100,18900,21300,22800,23700,24200,24600,24800,24900,25000,25100,25100,25100,25100,25100,25100,25100,25100,25100,25100,25100],
[11800,16400,19200,21000,22100,22700,23200,23400,23600,23700,23700,23800,23800,23800,23800,23800,23800,23800,23800,23800,23800],
[12000,16200,18800,20500,21500,22000,22500,22700,22800,22900,22900,23000,23000,23000,23000,23000,23000,23000,23000,23000,23000],
[11200,15400,18000,19700,20700,21200,21700,21900,22000,22100,22100,22200,22200,22200,22200,22200,22200,22200,22200,22200,22200],
[10200,14000,16400,17900,18800,19300,19700,19900,20000,20100,20200,20200,20200,20200,20200,20200,20200,20200,20200,20200,20200],
[11500,14500,16500,17700,18400,18800,19100,19300,19300,19400,19500,19500,19500,19500,19500,19500,19500,19500,19500,19500,19500],
[9700,13100,15300,16600,17400,17900,18300,18400,18500,18600,18700,18700,18700,18700,18700,18700,18700,18700,18700,18700,18700],
[9300,12300,14300,15500,16200,16600,16900,17100,17100,17200,17300,17300,17300,17300,17300,17300,17300,17300,17300,17300,17300],
[7600,9900,11300,12200,12800,13100,13300,13400,13500,13500,13600,13600,13600,13600,13600,13600,13600,13600,13600,13600,13600],
[7800,9700,10900,11700,12100,12400,12600,12700,12700,12800,12800,12800,12800,12800,12800,12800,12800,12800,12800,12800,12800],
[5000,7700,9300,10400,11000,11400,11700,11800,11900,11900,12000,12000,12000,12000,12000,12000,12000,12000,12000,12000,12000],
[5000,7300,8700,9600,10200,10500,10700,10800,10900,10900,11000,11000,11000,11000,11000,11000,11000,11000,11000,11000,11000],
[4500,6400,7600,8400,8800,9100,9300,9400,9400,9500,9500,9500,9500,9500,9500,9500,9500,9500,9500,9500,9500],
[3000,4900,6100,6900,7300,7600,7800,7900,7900,8000,8000,8000,8000,8000,8000,8000,8000,8000,8000,8000,8000],
[3100,4600,5600,6200,6500,6700,6900,7000,7000,7100,7100,7100,7100,7100,7100,7100,7100,7100,7100,7100,7100],
[2400,3900,4900,5500,5800,6000,6200,6300,6300,6400,6400,6400,6400,6400,6400,6400,6400,6400,6400,6400,6400],
[4000,6300,7700,8600,9200,9500,9700,9800,9900,9900,10000,10000,10000,10000,10000,10000,10000,10000,10000,10000,10000]
];

const xTitleAz = 'Max MAD* of Azimuth median for 3 subsequent valid strides';
const xTitleEl = 'Max MAD* of Elevation median for 3 subsequent valid strides';
const xTitleDur = 'Max MAD* of duration time [s] for 3 subsequent valid strides';
const yTitleCad = 'Cadence [steps/min]';
const yTitleStr = 'Number of identified strides';

// ---------------- RENDER ----------------
const FONT = "'Liberation Sans', Arial, Helvetica, sans-serif";
Chart.defaults.font.family = FONT;

function near(a, b) { return Math.abs(a - b) < 1e-9; }

function buildPanel(canvasId, cfg) {
  const all = cfg.series.flat();
  let lo = Math.min(...all), hi = Math.max(...all);
  if (cfg.includeZero) lo = Math.min(lo, 0);
  const yp = (hi - lo) * 0.05;
  const x0 = cfg.xs[0], x1 = cfg.xs[cfg.xs.length - 1];
  const xp = (x1 - x0) * 0.05;

  const datasets = cfg.series.map(vals => ({
    data: vals.map((v, i) => ({ x: cfg.xs[i], y: v })),
    borderColor: 'rgba(0,0,0,0.55)',
    borderWidth: 1.1,
    pointRadius: 2.6,
    pointBackgroundColor: 'rgba(0,0,0,0.68)',
    pointBorderWidth: 0,
    pointHoverRadius: 0,
    tension: 0,
    fill: false
  }));

  const isMajorX = v => cfg.xMajor.some(m => near(m, v));
  const isMajorY = v => cfg.yMajor.some(m => near(m, v));
  const labelFor = (majors, labels, v) => {
    const i = majors.findIndex(m => near(m, v));
    return i >= 0 ? labels[i] : '';
  };

  const bg = {
    id: 'bg' + canvasId,
    beforeDraw(chart) {
      const { ctx, chartArea: a } = chart;
      ctx.save();
      ctx.fillStyle = '#EBEBEB';
      ctx.fillRect(a.left, a.top, a.right - a.left, a.bottom - a.top);
      ctx.restore();
    }
  };
  const vline = {
    id: 'vl' + canvasId,
    afterDatasetsDraw(chart) {
      const { ctx, chartArea: a } = chart;
      const px = chart.scales.x.getPixelForValue(cfg.threshold);
      ctx.save();
      ctx.beginPath();
      ctx.rect(a.left, a.top, a.right - a.left, a.bottom - a.top);
      ctx.clip();
      ctx.strokeStyle = '#0000FF';
      ctx.lineWidth = 2;
      ctx.setLineDash([8, 8]);
      ctx.lineDashOffset = -8;
      ctx.beginPath();
      ctx.moveTo(px, a.top);
      ctx.lineTo(px, a.bottom);
      ctx.stroke();
      ctx.restore();
    }
  };

  const tickFont = { family: FONT, size: 13 };
  const titleFont = { family: FONT, size: 17 };

  return new Chart(document.getElementById(canvasId), {
    type: 'line',
    data: { datasets },
    plugins: [bg, vline],
    options: {
      responsive: true,
      maintainAspectRatio: false,
      animation: false,
      events: [],
      layout: { autoPadding: false, padding: { top: cfg.padT, right: cfg.padR, left: 0, bottom: 0 } },
      plugins: { legend: { display: false }, tooltip: { enabled: false }, title: { display: false } },
      scales: {
        x: {
          type: 'linear',
          min: x0 - xp, max: x1 + xp,
          afterBuildTicks: s => { s.ticks = cfg.xMajor.concat(cfg.xMinor).sort((a, b) => a - b).map(v => ({ value: v })); },
          afterFit: s => { s.height = cfg.xH; s.paddingLeft = 0; s.paddingRight = 0; s.paddingTop = 0; s.paddingBottom = 0; },
          ticks: {
            autoSkip: false, maxRotation: 0, minRotation: 0, padding: 1,
            color: '#4D4D4D', font: tickFont,
            callback: v => labelFor(cfg.xMajor, cfg.xLabels, v)
          },
          grid: {
            color: '#FFFFFF',
            lineWidth: c => (c.tick && isMajorX(c.tick.value)) ? 1.2 : 0.55,
            drawTicks: true, tickLength: 4, tickWidth: 1.1,
            tickColor: c => (c.tick && isMajorX(c.tick.value)) ? '#333333' : 'rgba(0,0,0,0)'
          },
          border: { display: false },
          title: { display: true, text: cfg.xTitle, color: '#000000', font: titleFont, padding: { top: 0, bottom: cfg.xTitlePB } }
        },
        y: {
          type: 'linear',
          min: lo - yp, max: hi + yp,
          afterBuildTicks: s => { s.ticks = cfg.yMajor.concat(cfg.yMinor).sort((a, b) => a - b).map(v => ({ value: v })); },
          afterFit: s => { s.width = cfg.yW; s.paddingLeft = 0; s.paddingRight = 0; s.paddingTop = 0; s.paddingBottom = 0; },
          ticks: {
            autoSkip: false, padding: 4,
            color: '#4D4D4D', font: tickFont,
            callback: v => labelFor(cfg.yMajor, cfg.yLabels, v)
          },
          grid: {
            color: '#FFFFFF',
            lineWidth: c => (c.tick && isMajorY(c.tick.value)) ? 1.2 : 0.55,
            drawTicks: true, tickLength: 4, tickWidth: 1.1,
            tickColor: c => (c.tick && isMajorY(c.tick.value)) ? '#333333' : 'rgba(0,0,0,0)'
          },
          border: { display: false },
          title: { display: true, text: cfg.yTitle, color: '#000000', font: titleFont, padding: { top: cfg.yTitlePT, bottom: 0 } }
        }
      }
    }
  });
}

const cadY = { yMajor: cadTicks, yLabels: cadTickLabels, yMinor: cadMinor, yTitle: yTitleCad, includeZero: false };
const strY = { yMajor: strideTicks, yLabels: strideTickLabels, yMinor: strideMinor, yTitle: yTitleStr, includeZero: true };
const azXc = { xs: madAzX, xMajor: azXTicks, xLabels: azXTickLabels, xMinor: azXMinor, xTitle: xTitleAz, threshold: azThreshold };
const elXc = { xs: madElX, xMajor: madXTicks, xLabels: madXTickLabels, xMinor: madXMinor, xTitle: xTitleEl, threshold: elThreshold };
const duXc = { xs: madDurX, xMajor: madXTicks, xLabels: madXTickLabels, xMinor: madXMinor, xTitle: xTitleDur, threshold: durThreshold };

const leftBox = { yW: 73.5, padR: 4.5, yTitlePT: 7.8 };
const rightBox = { yW: 76, padR: 5.5, yTitlePT: 8.8 };
const row1 = { padT: 4, xH: 45.4, xTitlePB: 3.8 };
const row2 = { padT: 10, xH: 46.5, xTitlePB: 3.8 };
const row3 = { padT: 11, xH: 44.6, xTitlePB: 2.8 };

buildPanel('c1', Object.assign({ series: cadenceAzimuth }, cadY, azXc, leftBox, row1));
buildPanel('c2', Object.assign({ series: stridesAzimuth }, strY, azXc, rightBox, row1));
buildPanel('c3', Object.assign({ series: cadenceElevation }, cadY, elXc, leftBox, row2));
buildPanel('c4', Object.assign({ series: stridesElevation }, strY, elXc, rightBox, row2));
buildPanel('c5', Object.assign({ series: cadenceDuration }, cadY, duXc, leftBox, row3));
buildPanel('c6', Object.assign({ series: stridesDuration }, strY, duXc, rightBox, row3));
</script>
</body></html>
